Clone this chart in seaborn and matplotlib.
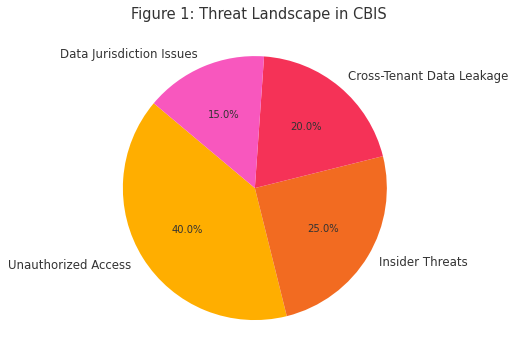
import matplotlib
matplotlib.use("Agg")
import matplotlib.pyplot as plt
import seaborn as sns

sns.set_theme(style="white")
plt.rcParams['font.family'] = ['DejaVu Sans']
plt.rcParams['text.color'] = '#333333'

categories = ["Unauthorized Access", "Insider Threats", "Cross-Tenant Data Leakage", "Data Jurisdiction Issues"]
shares = [40, 25, 20, 15]
colors = ["#FFAE00", "#F26B21", "#F53257", "#F857BE"]

fig = plt.figure(figsize=(5.18, 3.61), dpi=100)
h = 0.914
w = h * 361 / 518
ax = fig.add_axes([0.492 - w / 2, 0.479 - h / 2, w, h])
wedges, texts, autotexts = ax.pie(shares, labels=categories, colors=colors, startangle=140,
                                  autopct='%1.1f%%', wedgeprops={'linewidth': 0},
                                  textprops={'fontsize': 8.5, 'color': '#333333'})
for t in autotexts:
    t.set_fontsize(7.2)
ax.set_aspect('equal')
fig.suptitle("Figure 1: Threat Landscape in CBIS", fontsize=10.5, color='#333333', y=0.98)
fig.savefig("out.png", dpi=100)
